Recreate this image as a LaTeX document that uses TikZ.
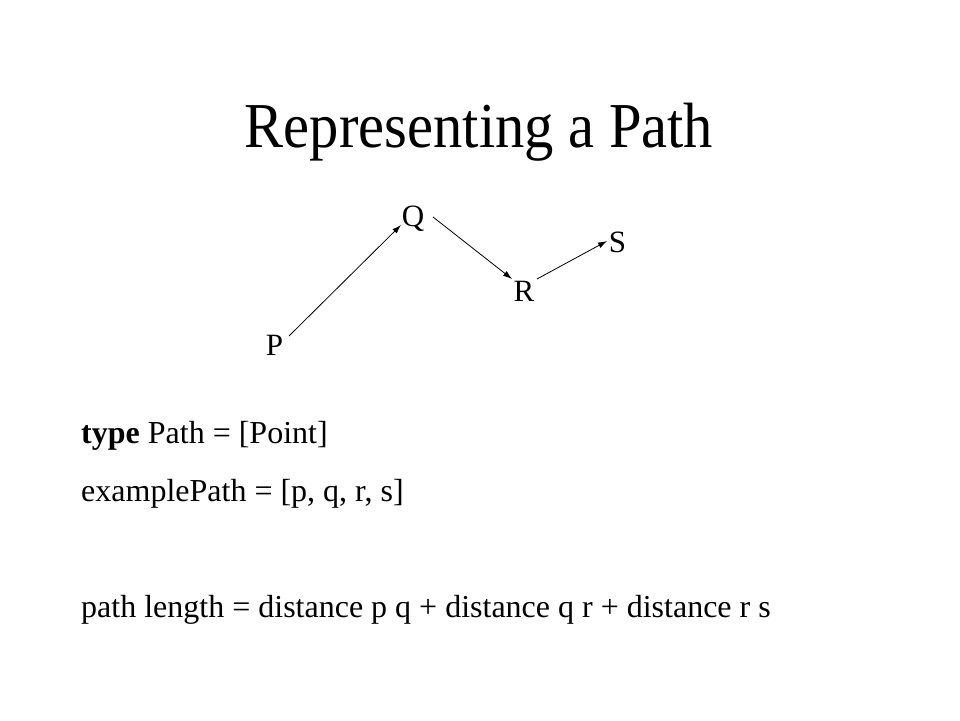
\documentclass[tikz,border=0pt]{standalone}
\usepackage{fontspec}
\setmainfont{Liberation Serif}
\newfontfamily\titlefont[FakeStretch=0.915]{Liberation Serif}
\usetikzlibrary{calc,arrows.meta}
\begin{document}
\begin{tikzpicture}[x=1pt,y=-1pt,
  lbl/.style={inner sep=0pt,anchor=base,font=\fontsize{31}{31}\selectfont},
  txt/.style={inner sep=0pt,anchor=base west,font=\fontsize{32}{32}\selectfont},
  arr/.style={line width=0.8pt,-{Latex[length=9pt,width=6pt]}}]
\useasboundingbox[fill=white] (0,0) rectangle (960,720);
\node[inner sep=0pt,anchor=base,font=\titlefont\fontsize{64}{64}\selectfont] (title) at (479,147) {Representing a Path};
\node[lbl] (P) at (274.5,355) {P};
\node[lbl] (Q) at (413,226) {Q};
\node[lbl] (R) at (524,301) {R};
\node[lbl] (S) at (617.5,252) {S};
\draw[arr] ($(P.base)+(14.5,-19)$) -- ($(Q.base)+(-12,-1)$);
\draw[arr] ($(Q.base)+(20,-9)$) -- ($(R.base)+(-12,-22)$);
\draw[arr] ($(R.base)+(13,-22)$) -- ($(S.base)+(-10.5,-11)$);
\node[txt] (l1) at (81,443) {\textbf{type} Path = [Point]};
\node[txt] (l2) at (81,501) {examplePath = [p, q, r, s]};
\node[txt] (l3) at (81,617) {path length = distance p q + distance q r + distance r s};
\end{tikzpicture}
\end{document}
